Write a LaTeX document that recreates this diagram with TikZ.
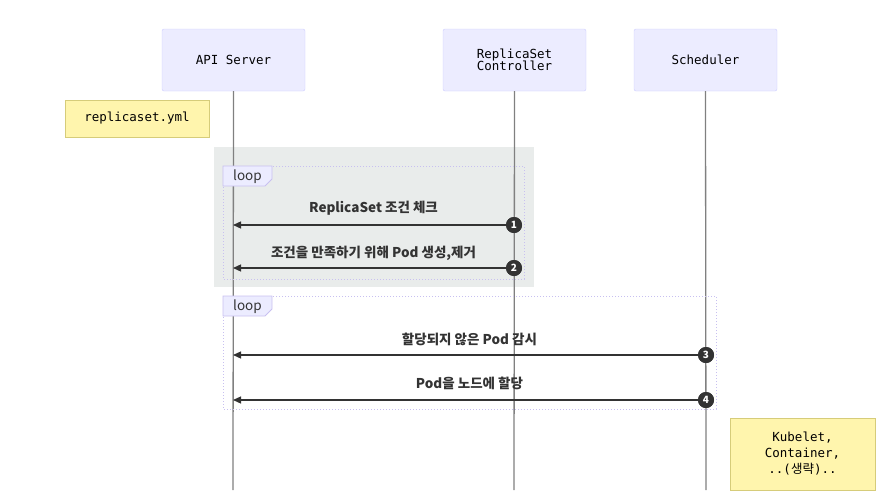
\documentclass[tikz,border=0pt]{standalone}
\usepackage{fontspec}
\setmainfont{Liberation Sans}
\newfontfamily\kr{Noto Sans CJK KR}
\newfontfamily\monof{DejaVu Sans Mono}
\usetikzlibrary{arrows.meta}
\definecolor{actfill}{HTML}{ECECFF}
\definecolor{actdraw}{HTML}{CCCCFF}
\definecolor{notefill}{HTML}{FFF5AD}
\definecolor{notedraw}{HTML}{D6CC7A}
\definecolor{lifec}{HTML}{808080}
\definecolor{msgc}{HTML}{333333}
\definecolor{rectfill}{HTML}{E9ECEB}
\definecolor{loopc}{HTML}{C8C0F0}
\tikzset{
  actor/.style={draw=actdraw, fill=actfill, rounded corners=2pt, minimum width=143pt, minimum height=62pt, inner sep=0pt, align=center, font=\monof\fontsize{12.5}{13}\selectfont},
  notebox/.style={draw=notedraw, fill=notefill, inner sep=0pt, align=center, font=\monof\fontsize{12.5}{16}\selectfont},
  lifeline/.style={draw=lifec, line width=1.3pt},
  msg/.style={draw=msgc, line width=1.3pt, -{Triangle[length=8pt,width=7pt]}},
  msglabel/.style={font=\kr\bfseries\fontsize{13.5}{15}\selectfont, text=msgc, inner sep=0pt},
  seqnum/.style={circle, fill=msgc, text=white, minimum size=16pt, inner sep=0pt, font=\kr\bfseries\fontsize{10}{10}\selectfont},
  loopbox/.style={draw=loopc, dotted, line width=1pt},
  looplabel/.style={draw=loopc, fill=actfill, line width=0.8pt},
  looptext/.style={font=\kr\fontsize{13.5}{14}\selectfont, text=msgc, inner sep=0pt}
}
\begin{document}
\begin{tikzpicture}[x=1pt,y=-1pt]
\useasboundingbox (0,0) rectangle (887,496);
% background rect highlight
\fill[rectfill] (214,147) rectangle (534,287);
% actors
\node[actor] (api) at (233.5,60) {API Server};
\node[actor] (rsc) at (514.5,60) {ReplicaSet\\[-1pt]Controller};
\node[actor] (sch) at (705.5,60) {Scheduler};
% lifeline ends
\coordinate (apiEnd) at (233,490);
\coordinate (rscEnd) at (514,490);
\coordinate (schEnd) at (706,490);
\draw[lifeline] (api.south) -- (apiEnd);
\draw[lifeline] (rsc.south) -- (rscEnd);
\draw[lifeline] (sch.south) -- (schEnd);
% notes
\node[notebox, minimum width=144pt, minimum height=37pt] (yml) at (137,118.5) {replicaset.yml};
\node[notebox, minimum width=145pt, minimum height=72pt] (kub) at (802.5,454) {Kubelet,\\Container,\\..({\kr 생략})..};
% loop 1
\draw[loopbox] (223,166) rectangle (524,279);
\draw[looplabel] (223,166) -- (272,166) -- (272,179) -- (265,186) -- (223,186) -- cycle;
\node[looptext] (l1) at (247.5,176.5) {loop};
% loop 2
\draw[loopbox] (223,296) rectangle (716,409);
\draw[looplabel] (223,296) -- (272,296) -- (272,309) -- (265,316) -- (223,316) -- cycle;
\node[looptext] (l2) at (247.5,306.5) {loop};
% messages
\coordinate (a1) at (233,225);
\coordinate (a2) at (233,268);
\coordinate (a3) at (233,355);
\coordinate (a4) at (233,400);
\node[seqnum] (n1) at (514,225) {1};
\node[seqnum] (n2) at (514,268) {2};
\node[seqnum] (n3) at (706,355) {3};
\node[seqnum] (n4) at (706,400) {4};
\draw[msg] (n1.center) -- (a1);
\draw[msg] (n2.center) -- (a2);
\draw[msg] (n3.center) -- (a3);
\draw[msg] (n4.center) -- (a4);
\node[seqnum] at (n1) {1};
\node[seqnum] at (n2) {2};
\node[seqnum] at (n3) {3};
\node[seqnum] at (n4) {4};
\node[msglabel] (t1) at (373.5,208) {ReplicaSet 조건 체크};
\node[msglabel] (t2) at (373.5,253) {조건을 만족하기 위해 Pod 생성,제거};
\node[msglabel] (t3) at (469.5,339) {할당되지 않은 Pod 감시};
\node[msglabel] (t4) at (469.5,383) {Pod을 노드에 할당};
\end{tikzpicture}
\end{document}
